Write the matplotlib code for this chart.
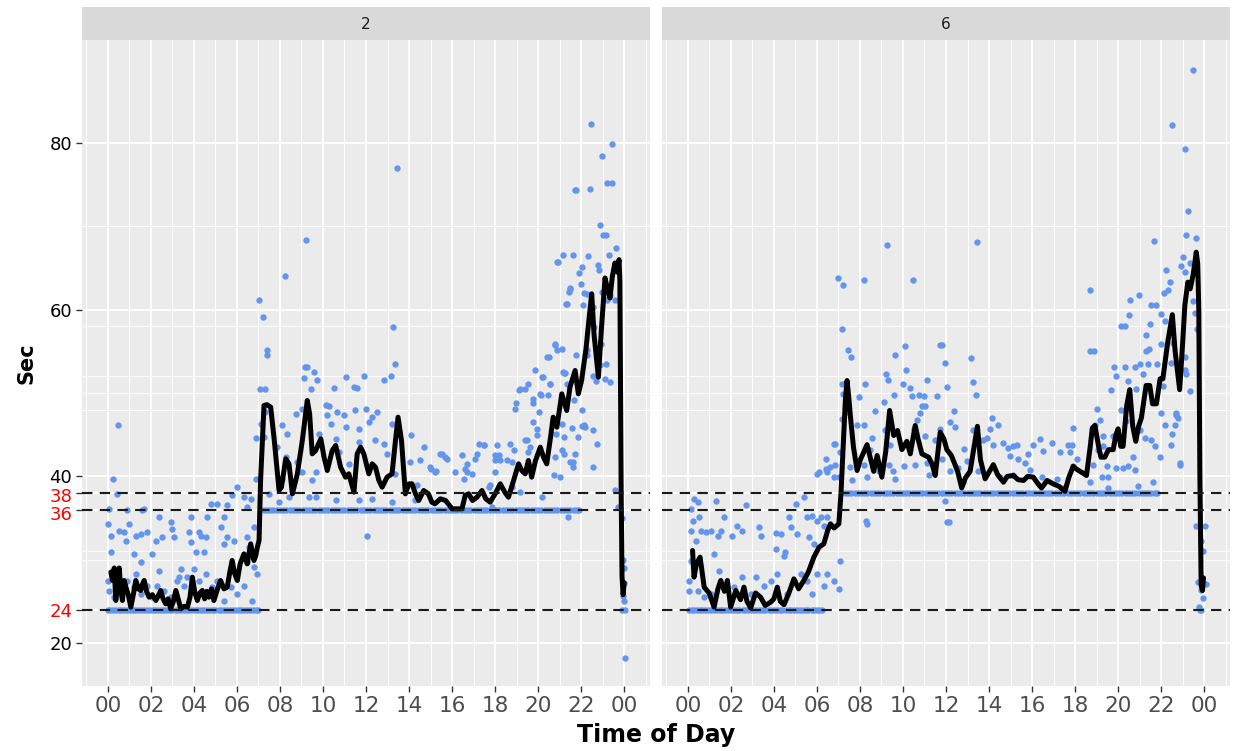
import matplotlib
matplotlib.use('Agg')
import matplotlib.pyplot as plt
import matplotlib.transforms as mtransforms

plt.rcParams['font.family'] = ['DejaVu Sans']

# ---------------- data ----------------
facets = ['2', '6']
x_breaks = [0, 2, 4, 6, 8, 10, 12, 14, 16, 18, 20, 22, 24]
x_labels = ['00', '02', '04', '06', '08', '10', '12', '14', '16', '18', '20', '22', '00']
x_minor = [-1, 1, 3, 5, 7, 9, 11, 13, 15, 17, 19, 21, 23, 25]
y_breaks = [20, 24, 36, 38, 40, 60, 80]
y_label_colors = ['black', 'red', 'red', 'red', 'black', 'black', 'black']
y_minor = [30, 31, 48, 50, 52, 58, 70]
ref_lines = [24, 36, 38]

# facet "2": rolling mean line
p2_line_h = [0.14, 0.22, 0.3, 0.37, 0.45, 0.53, 0.6, 0.68, 0.76, 0.84, 0.95, 1.07, 1.2, 1.3, 1.42,
             1.53, 1.6, 1.69, 1.8, 1.92, 2.07, 2.23, 2.35, 2.46, 2.57, 2.69, 2.8, 2.92, 3.05, 3.16,
             3.28, 3.39, 3.55, 3.7, 3.82, 3.93, 4.05, 4.16, 4.28, 4.39, 4.5, 4.6, 4.7, 4.82, 4.93,
             5.1, 5.24, 5.4, 5.55, 5.67, 5.78, 5.9, 6.02, 6.15, 6.33, 6.48, 6.64, 6.79, 6.88, 6.95,
             7.03, 7.1, 7.2, 7.26, 7.4, 7.57, 7.73, 7.96, 8.07, 8.27, 8.42, 8.58, 8.81, 9.04, 9.27,
             9.38, 9.5, 9.66, 9.9, 10.05, 10.2, 10.43, 10.59, 10.82, 11.05, 11.2, 11.44, 11.59, 11.75,
             11.9, 12.13, 12.29, 12.44, 12.6, 12.75, 12.98, 13.21, 13.37, 13.49, 13.65, 13.83, 13.99,
             14.14, 14.3, 14.45, 14.68, 14.9, 15.06, 15.2, 15.46, 15.7, 16.0, 16.46, 16.61, 16.77,
             16.95, 17.16, 17.39, 17.57, 17.77, 18.0, 18.24, 18.45, 18.62, 18.86, 19.09, 19.24, 19.4,
             19.55, 19.7, 19.88, 20.1, 20.25, 20.4, 20.6, 20.7, 20.87, 21.1, 21.33, 21.48, 21.72,
             21.87, 22.02, 22.23, 22.35, 22.49, 22.6, 22.8, 22.95, 23.11, 23.22, 23.34, 23.45, 23.57,
             23.68, 23.76, 23.8, 23.86, 23.9, 23.95, 24.0]
p2_line_v = [28.5, 27.5, 29.0, 25.1, 27.0, 29.0, 26.5, 25.1, 27.5, 26.7, 25.8, 24.3, 26.0, 27.5, 26.5,
             26.3, 27.0, 27.5, 26.2, 25.5, 25.8, 25.1, 25.7, 26.3, 25.3, 24.7, 25.3, 24.1, 25.0, 26.3,
             25.2, 24.1, 24.4, 24.3, 25.5, 27.9, 26.0, 25.1, 26.0, 26.3, 25.3, 26.2, 25.5, 26.5, 25.1,
             26.5, 27.5, 26.5, 26.7, 28.5, 29.9, 28.3, 27.5, 29.5, 30.7, 29.5, 31.9, 29.9, 30.5, 31.5,
             32.3, 39.5, 45.0, 48.5, 48.6, 48.3, 44.5, 38.3, 38.7, 42.1, 41.5, 37.9, 40.3, 44.3, 49.1,
             47.5, 42.7, 43.1, 44.5, 42.3, 40.7, 43.1, 43.7, 41.1, 39.9, 40.3, 38.1, 42.7, 43.5,
             42.7, 40.3, 41.5, 41.1, 39.5, 38.7, 39.9, 40.3, 44.3, 47.1, 44.3, 37.9, 39.1,
             39.1, 37.9, 37.1, 38.3, 37.9, 36.9, 36.7, 37.3, 37.1, 36.1, 36.1, 37.7, 37.9,
             37.1, 37.5, 38.3, 37.3, 36.9, 37.9, 39.1, 38.1, 37.5, 39.5, 41.5, 40.7, 40.3,
             41.9, 39.9, 41.9, 43.5, 42.3, 41.5, 45.1, 47.1, 45.9, 49.9, 47.9, 50.7, 52.7,
             49.9, 51.5, 55.4, 58.5, 61.9, 57.0, 51.9, 58.0, 63.8, 62.5, 61.4, 64.0, 65.6,
             64.5, 66.0, 63.5, 38.0, 28.0, 25.8, 27.2]

# facet "2": readings sitting on the 24 s and 36 s floors
p2_floor24_h = [0.0, 0.12, 0.25, 0.38, 0.5, 0.62, 0.75, 0.9, 1.02, 1.15, 1.28, 1.4, 1.55, 1.68, 1.8,
                1.95, 2.08, 2.2, 2.35, 2.48, 2.6, 2.75, 2.88, 3.0, 3.15, 3.28, 3.4, 3.55, 3.68, 3.8,
                3.95, 4.08, 4.2, 4.35, 4.48, 4.6, 4.75, 4.88, 5.0, 5.15, 5.28, 5.4, 5.55, 5.68, 5.8,
                5.95, 6.08, 6.2, 6.35, 6.48, 6.6, 6.75, 6.88, 7.0, 23.9, 24.02]
p2_floor36_h = [7.25, 7.4, 7.55, 7.7, 7.85, 8.0, 8.15, 8.3, 8.45, 8.6, 8.75, 8.9, 9.05, 9.2, 9.35,
                9.5, 9.65, 9.8, 9.95, 10.1, 10.25, 10.4, 10.55, 10.7, 10.85, 11.0, 11.15, 11.3, 11.45,
                11.6, 11.75, 11.9, 12.05, 12.2, 12.35, 12.5, 12.65, 12.8, 12.95, 13.1, 13.25, 13.4,
                13.55, 13.7, 13.85, 14.0, 14.15, 14.3, 14.45, 14.6, 14.75, 14.9, 15.05, 15.2, 15.35,
                15.5, 15.65, 15.8, 15.95, 16.1, 16.25, 16.4, 16.55, 16.7, 16.85, 17.0, 17.15, 17.3,
                17.45, 17.6, 17.75, 17.9, 18.05, 18.2, 18.35, 18.5, 18.65, 18.8, 18.95, 19.1, 19.25,
                19.4, 19.55, 19.7, 19.85, 20.0, 20.15, 20.3, 20.45, 20.6, 20.75, 20.9, 21.05, 21.2,
                21.35, 21.5, 21.65, 21.8, 21.9]

# facet "2": other individual readings (hour, seconds)
p2_points = [
    (0.48, 46.1), (0.22, 39.7), (0.42, 37.9), (0.06, 36.1), (0.0, 34.3), (0.17, 32.9), (0.14, 30.9),
    (0.0, 27.5), (0.06, 26.3), (0.29, 28.9), (0.53, 33.5), (0.76, 33.3), (0.99, 34.3), (0.91, 35.9),
    (0.84, 32.3), (1.3, 32.9), (1.53, 33.1), (1.84, 33.3), (1.69, 36.1), (1.61, 35.9), (1.22, 30.7),
    (1.53, 29.7), (1.3, 28.3), (2.07, 30.7), (2.23, 32.3), (2.38, 35.1), (2.54, 32.7), (2.38, 28.7),
    (2.92, 34.5), (3.08, 32.7), (3.0, 33.7), (3.31, 27.9), (3.39, 28.9), (3.85, 35.1), (3.76, 33.3),
    (3.85, 32.1), (4.08, 30.9), (4.24, 33.3), (4.31, 32.9), (4.47, 30.9), (4.62, 35.1), (4.55, 32.7),
    (4.78, 36.7), (5.09, 36.7), (5.24, 33.9), (5.4, 35.1), (5.55, 36.5), (5.79, 37.7), (6.02, 38.7),
    (6.33, 37.5), (6.48, 36.3), (6.64, 37.3), (6.87, 39.7), (6.79, 33.9), (5.4, 31.9), (5.55, 32.7),
    (5.86, 32.3), (6.48, 32.7), (6.56, 31.5), (6.48, 29.7), (6.79, 29.1), (6.95, 28.3), (6.71, 25.1),
    (6.33, 26.9), (6.02, 25.9), (5.71, 26.7), (5.4, 25.1), (5.09, 27.5), (4.86, 26.7), (4.55, 28.3),
    (4.24, 27.5), (4.0, 28.9), (3.7, 27.9), (3.54, 26.9), (3.23, 27.5), (2.92, 25.5), (2.61, 26.3),
    (2.3, 26.9), (2.07, 25.5), (1.84, 26.9), (1.53, 25.9), (1.22, 26.7), (0.91, 27.5), (0.6, 25.9),
    (0.29, 25.5),
    (7.03, 61.1), (7.22, 59.1), (7.39, 55.1), (7.38, 54.5), (7.06, 50.5), (7.3, 50.5), (7.31, 47.7),
    (7.11, 46.3), (6.88, 44.6), (7.26, 44.7), (8.24, 64.1), (9.2, 68.4), (9.17, 53.1), (9.27, 53.1),
    (9.12, 51.8), (9.58, 52.5), (9.74, 51.6), (9.43, 50.5), (8.73, 47.5), (9.04, 48.1), (8.11, 46.1),
    (8.35, 45.1), (7.88, 43.5), (8.27, 42.3), (8.11, 39.7), (8.81, 41.7), (9.04, 40.5), (9.51, 39.5),
    (9.66, 40.5), (9.81, 45.1), (10.12, 48.5), (10.28, 48.4), (10.51, 50.6), (10.2, 47.3),
    (10.36, 46.3), (10.66, 47.7), (10.97, 47.3), (11.05, 51.9), (11.44, 50.7), (11.59, 50.6),
    (11.9, 52.0), (11.51, 47.9), (11.98, 48.1), (12.52, 47.7), (12.13, 46.5), (12.29, 47.1),
    (11.67, 45.7), (11.05, 45.9), (10.59, 44.5), (10.74, 42.9), (11.2, 41.5), (11.67, 44.1),
    (12.44, 44.3), (12.83, 51.6), (13.14, 52.0), (13.26, 57.9), (13.37, 53.5), (13.42, 77.0),
    (12.83, 43.9), (12.98, 42.7), (13.37, 40.3), (13.21, 46.3), (14.11, 45.0), (14.06, 41.7),
    (14.53, 41.9), (14.68, 43.5), (14.99, 41.1), (15.22, 40.5), (15.46, 42.7), (15.69, 42.3),
    (16.46, 42.5), (16.54, 39.7), (16.69, 41.5), (16.92, 40.3), (17.16, 42.7), (17.23, 43.9),
    (17.47, 43.8), (17.08, 42.1), (18.08, 43.7), (18.01, 42.5), (18.24, 41.9), (18.01, 40.5),
    (17.77, 38.9), (18.7, 43.9), (18.86, 43.1), (18.55, 41.9), (18.93, 48.1), (19.09, 50.3),
    (19.17, 50.5), (19.4, 44.3), (19.55, 42.9), (19.78, 48.8), (19.86, 52.7), (19.78, 46.5),
    (19.94, 44.9), (20.02, 47.7), (20.17, 51.9), (20.4, 54.3), (20.56, 51.1), (20.1, 49.9),
    (20.48, 49.7), (20.8, 55.8), (20.87, 55.1), (21.1, 55.3), (20.87, 65.7), (21.17, 66.5),
    (21.33, 60.7), (21.48, 62.5), (21.72, 74.3), (21.25, 52.4), (21.17, 52.5), (21.64, 41.1),
    (21.48, 41.7), (21.56, 45.8), (21.1, 43.2), (21.02, 39.9), (20.17, 37.5), (19.17, 38.1),
    (18.78, 38.7), (17.7, 38.7), (16.69, 40.5), (15.77, 42.1), (16.15, 40.5), (14.37, 38.9),
    (14.3, 37.1), (13.21, 36.9), (12.29, 37.3), (12.06, 32.8), (11.67, 37.1), (10.59, 37.1),
    (9.66, 37.5), (9.35, 37.5), (8.42, 37.5), (7.96, 36.9), (7.5, 37.9), (21.4, 35.1), (17.85, 36.3),
    (15.0, 40.9), (15.27, 40.6), (15.53, 42.7), (16.61, 40.9), (17.5, 43.8), (18.16, 42.5),
    (18.0, 42.0), (18.78, 41.7), (19.48, 44.3), (19.63, 43.5), (19.4, 50.5), (19.55, 51.1),
    (18.98, 48.8), (19.78, 49.3), (19.94, 45.7), (20.22, 51.9), (20.12, 49.8), (20.53, 51.1),
    (20.51, 54.3), (20.79, 55.9), (21.18, 52.4), (21.75, 54.5), (21.36, 51.1), (21.69, 49.1),
    (22.03, 47.9), (21.1, 46.3), (21.18, 44.7), (21.21, 42.7), (20.84, 45.1), (20.79, 42.3),
    (20.74, 40.1), (21.64, 41.7), (21.72, 42.7), (21.87, 44.7), (22.03, 46.0), (22.14, 46.1),
    (22.26, 55.1), (22.29, 54.5), (22.57, 52.0), (22.68, 51.4), (22.88, 53.4),
    (22.46, 82.3), (23.43, 79.9), (22.96, 78.4), (21.75, 74.4), (22.41, 74.5), (23.22, 75.2),
    (23.42, 75.2), (22.88, 70.2), (23.03, 68.9), (23.14, 69.0), (23.62, 67.4), (23.3, 66.6),
    (21.64, 66.5), (22.31, 66.4), (20.94, 65.7), (22.06, 65.1), (22.77, 65.4), (21.9, 64.4),
    (22.85, 64.7), (21.98, 63.1), (21.49, 62.6), (21.44, 62.1), (22.15, 62.0), (22.26, 61.9),
    (21.3, 60.7), (22.1, 60.6), (23.19, 61.1), (23.34, 61.7), (23.57, 61.1), (22.96, 62.1),
    (22.57, 60.3), (22.6, 57.9), (22.92, 55.9), (23.16, 53.5), (23.11, 51.7), (23.34, 51.3),
    (22.72, 43.9), (22.54, 45.5), (22.54, 41.1), (22.18, 45.9),
    (23.57, 38.4), (23.7, 36.3), (23.89, 35.0), (23.95, 30.0), (23.97, 29.0), (24.0, 27.2),
    (23.95, 25.7), (24.0, 25.1), (24.02, 18.2),
]

# facet "6": rolling mean line
p6_line_h = [0.22, 0.29, 0.4, 0.57, 0.76, 0.99, 1.1, 1.22, 1.4, 1.53, 1.7, 1.84, 1.99, 2.23, 2.45,
             2.61, 2.75, 2.92, 3.15, 3.38, 3.6, 3.85, 4.0, 4.16, 4.3, 4.47, 4.7, 4.93, 5.15, 5.39,
             5.6, 5.86, 6.1, 6.32, 6.5, 6.63, 6.8, 7.02, 7.12, 7.22, 7.32, 7.4, 7.48, 7.56, 7.7,
             7.87, 8.02, 8.33, 8.64, 8.8, 9.02, 9.2, 9.38, 9.57, 9.75, 9.95, 10.18, 10.34, 10.57,
             10.7, 10.88, 11.19, 11.35, 11.5, 11.73, 11.9, 12.04, 12.25, 12.42, 12.55, 12.73, 12.9,
             13.12, 13.3, 13.46, 13.6, 13.82, 14.0, 14.2, 14.4, 14.67, 14.85, 15.13, 15.35, 15.6,
             15.8, 16.06, 16.25, 16.44, 16.7, 16.98, 17.25, 17.53, 17.7, 17.91, 18.1, 18.3, 18.53,
             18.7, 18.8, 18.92, 19.1, 19.2, 19.38, 19.55, 19.77, 19.9, 20.0, 20.12, 20.23, 20.4,
             20.54, 20.68, 20.82, 20.95, 21.08, 21.3, 21.47, 21.6, 21.78, 21.95, 22.08, 22.3, 22.52,
             22.65, 22.86, 23.0, 23.1, 23.24, 23.35, 23.48, 23.56, 23.63, 23.7, 23.75, 23.8, 23.86,
             23.92, 23.97]
p6_line_v = [31.1, 27.9, 29.5, 30.3, 26.7, 26.0, 25.2, 24.3, 26.5, 27.5, 26.2, 27.5, 24.3, 26.3, 25.2,
             26.7, 25.0, 24.2, 26.0, 25.5, 24.5, 24.9, 25.3, 26.7, 25.0, 24.6, 26.0, 27.7, 26.5, 27.5,
             28.5, 30.3, 31.5, 31.9, 33.5, 34.3, 33.8, 34.3, 38.0, 43.5, 49.0, 51.5, 49.5, 47.1, 43.5,
             40.7, 42.0, 43.8, 40.6, 42.5, 39.9, 43.0, 47.9, 44.9, 45.5, 43.2, 44.2, 42.7, 46.1,
             44.5, 42.7, 42.3, 41.5, 40.1, 45.3, 44.5, 43.2, 42.5, 41.4, 40.5, 38.6, 39.8,
             40.6, 43.5, 46.0, 42.0, 39.7, 40.5, 41.4, 40.2, 39.3, 40.0, 40.1, 39.6, 39.5,
             40.0, 39.9, 39.2, 38.6, 39.5, 39.1, 38.8, 38.2, 39.8, 41.2, 40.8, 40.5, 40.1,
             43.5, 45.8, 46.1, 43.5, 42.3, 42.3, 43.2, 43.2, 45.0, 45.7, 43.6, 43.6, 48.5,
             50.4, 46.0, 44.2, 46.0, 47.0, 50.9, 50.9, 48.7, 48.7, 51.7, 51.7, 56.0, 59.4,
             55.0, 50.4, 56.0, 60.5, 63.3, 62.5, 64.1, 65.5, 66.9, 65.5, 60.0, 40.0, 26.9,
             26.3, 27.8]

# facet "6": readings sitting on the 24 s and 38 s floors
p6_floor24_h = [0.05, 0.18, 0.3, 0.42, 0.55, 0.68, 0.8, 0.95, 1.08, 1.2, 1.35, 1.48, 1.6, 1.75, 1.88,
                2.0, 2.15, 2.28, 2.4, 2.55, 2.68, 2.8, 2.95, 3.08, 3.2, 3.35, 3.48, 3.6, 3.75, 3.88,
                4.0, 4.15, 4.28, 4.4, 4.55, 4.68, 4.8, 4.95, 5.08, 5.2, 5.35, 5.48, 5.6, 5.75, 5.88,
                6.0, 6.12, 6.25, 23.8, 23.86]
p6_floor38_h = [7.3, 7.45, 7.6, 7.75, 7.9, 8.05, 8.2, 8.35, 8.5, 8.65, 8.8, 8.95, 9.1, 9.25, 9.4,
                9.55, 9.7, 9.85, 10.0, 10.15, 10.3, 10.45, 10.6, 10.75, 10.9, 11.05, 11.2, 11.35,
                11.5, 11.65, 11.8, 11.95, 12.1, 12.25, 12.4, 12.55, 12.7, 12.85, 13.0, 13.15, 13.3,
                13.45, 13.6, 13.75, 13.9, 14.05, 14.2, 14.35, 14.5, 14.65, 14.8, 14.95, 15.1, 15.25,
                15.4, 15.55, 15.7, 15.85, 16.0, 16.15, 16.3, 16.45, 16.6, 16.75, 16.9, 17.05, 17.2,
                17.35, 17.5, 17.65, 17.8, 17.95, 18.1, 18.25, 18.4, 18.55, 18.7, 18.85, 19.0, 19.15,
                19.3, 19.45, 19.6, 19.75, 19.9, 20.05, 20.2, 20.35, 20.5, 20.65, 20.8, 20.95, 21.1,
                21.25, 21.4, 21.55, 21.7, 21.8]

# facet "6": other individual readings (hour, seconds)
p6_points = [
    (0.29, 37.3), (0.48, 36.9), (0.14, 36.1), (0.22, 34.7), (0.53, 35.1), (0.14, 33.5), (0.37, 32.3),
    (0.6, 33.5), (0.83, 33.3), (1.07, 33.5), (1.38, 32.9), (1.3, 37.0), (1.68, 35.1), (1.53, 33.5),
    (2.07, 32.9), (2.3, 34.1), (2.53, 33.5), (2.69, 36.6), (3.31, 33.9), (3.39, 32.9), (4.08, 33.2),
    (4.54, 30.9), (4.31, 33.1), (4.7, 35.1), (4.78, 33.9), (5.01, 36.7), (5.39, 37.5), (5.08, 33.1),
    (5.55, 35.1), (5.78, 35.3), (6.01, 34.7), (6.17, 35.1), (6.48, 35.1), (6.32, 34.1), (5.63, 32.7),
    (5.86, 31.9), (6.86, 43.9), (6.4, 40.9), (6.63, 41.1), (6.09, 40.5), (6.01, 40.3), (6.4, 42.1),
    (6.79, 39.9), (7.02, 39.9), (7.09, 29.9), (7.02, 26.5), (6.79, 27.5), (6.48, 28.3), (6.32, 26.9),
    (6.01, 28.3), (5.78, 25.9), (5.55, 27.5), (5.24, 28.3), (4.93, 27.5), (4.62, 25.9), (4.16, 28.3),
    (3.85, 27.5), (3.54, 26.9), (3.15, 27.9), (2.92, 25.9), (2.53, 27.9), (2.15, 26.7), (1.76, 26.9),
    (1.45, 28.7), (1.22, 30.7), (1.07, 25.9), (0.76, 25.5), (0.45, 26.3), (0.06, 27.5), (0.06, 26.3),
    (0.14, 29.9), (4.08, 31.3), (4.47, 30.5),
    (7.17, 51.1), (7.22, 49.9), (7.33, 47.7), (7.17, 46.9), (6.79, 43.9), (6.48, 40.5), (6.86, 41.3),
    (7.09, 42.9), (7.56, 41.1), (7.64, 39.5), (7.87, 41.6), (7.87, 46.1), (8.18, 46.1), (7.94, 49.5),
    (8.33, 34.3), (12.04, 34.5), (7.0, 63.8), (7.2, 62.9), (7.15, 57.7), (7.46, 55.1), (7.6, 54.3),
    (23.48, 88.7), (22.52, 82.2), (23.09, 79.3), (23.24, 71.8), (23.17, 68.9), (23.63, 68.6),
    (21.67, 68.3), (9.26, 67.7), (13.46, 68.1), (8.17, 63.5), (10.45, 63.5), (23.01, 66.3),
    (22.94, 65.2), (23.32, 65.6), (23.09, 64.5), (22.24, 64.8), (22.43, 63.3), (22.32, 62.4),
    (22.12, 62.0), (23.48, 61.0), (23.55, 59.6), (23.66, 57.7), (21.51, 60.6), (21.78, 60.6),
    (20.97, 61.8), (20.54, 61.1), (20.51, 59.3), (18.68, 62.4), (21.5, 58.3), (20.15, 58.0),
    (20.34, 58.0), (22.01, 59.5), (22.16, 58.6), (21.31, 57.0), (21.44, 55.3), (21.28, 55.0),
    (22.01, 55.9), (22.55, 56.0), (23.09, 54.3), (23.17, 52.3), (22.47, 53.6), (21.82, 53.5),
    (21.0, 53.5), (21.39, 53.5), (20.34, 53.1), (20.77, 53.1), (19.81, 53.1), (19.89, 52.0),
    (20.46, 51.4), (20.85, 50.5), (21.16, 52.3), (19.69, 50.3), (18.68, 55.0), (18.89, 55.0),
    (19.0, 48.1), (19.15, 46.8), (18.92, 46.1), (19.3, 44.8), (19.77, 44.8), (20.15, 47.9),
    (20.38, 46.6), (21.0, 45.5), (21.23, 44.6), (21.55, 44.4), (21.7, 43.6), (21.93, 42.3),
    (22.16, 46.1), (22.52, 45.1), (22.47, 43.8), (22.7, 47.6), (22.78, 47.0), (22.63, 46.1),
    (22.86, 41.6), (22.01, 47.6), (22.08, 50.8), (19.92, 41.0), (20.23, 41.0), (20.46, 41.2),
    (20.69, 42.3), (20.77, 40.7), (19.46, 41.2), (19.53, 39.9), (19.23, 39.9), (18.84, 41.4),
    (19.07, 43.1), (19.3, 43.6), (18.07, 42.1), (17.76, 42.9), (17.68, 43.8), (17.88, 45.8),
    (17.84, 43.8), (17.29, 42.9), (16.91, 44.0), (16.52, 43.0), (16.37, 44.5), (16.03, 43.8),
    (15.82, 42.7), (15.67, 41.6), (15.28, 43.8), (15.13, 43.6), (14.9, 43.4), (14.67, 44.0),
    (14.98, 42.4), (15.36, 42.1), (14.13, 47.0), (14.43, 46.1), (14.05, 45.7), (14.2, 43.8),
    (13.89, 44.6), (13.74, 44.3), (13.24, 45.5), (13.15, 54.2), (13.27, 51.3), (13.4, 49.8),
    (12.84, 43.3), (12.97, 41.8), (12.42, 45.9), (12.19, 46.5), (12.35, 47.8), (12.04, 50.7),
    (11.81, 55.7), (11.7, 55.7), (11.96, 53.6), (11.58, 49.6), (11.73, 45.7), (11.5, 44.4),
    (11.81, 42.1), (11.11, 51.5), (10.96, 49.6), (10.73, 49.8), (10.88, 48.4), (11.03, 48.4),
    (10.8, 47.6), (10.65, 46.8), (11.03, 44.8), (10.57, 41.4), (10.49, 45.7), (10.34, 50.6),
    (10.42, 49.6), (10.14, 52.8), (10.0, 51.1), (10.08, 55.6), (9.64, 54.6), (9.57, 49.8),
    (9.53, 40.6), (9.41, 43.8), (9.33, 41.4), (9.23, 52.3), (9.29, 51.6), (9.1, 48.9), (9.18, 45.5),
    (8.72, 47.8), (8.56, 44.6), (8.25, 51.1), (8.17, 41.4), (8.48, 43.1), (8.33, 39.9), (8.87, 40.6),
    (9.64, 39.7), (10.03, 41.2), (11.11, 41.6), (11.19, 40.1), (12.19, 40.6), (12.58, 41.0),
    (12.81, 39.3), (13.51, 40.6), (14.51, 39.9), (15.13, 40.1), (15.9, 40.8), (16.44, 39.9),
    (17.14, 39.7), (17.45, 38.6), (17.91, 41.2), (18.68, 39.3), (19.53, 38.6), (20.93, 38.8),
    (21.62, 39.3), (22.86, 41.4), (22.7, 47.4), (23.09, 52.8), (23.32, 50.2), (23.63, 34.1),
    (24.02, 34.1), (23.86, 32.2), (23.94, 31.1), (24.09, 27.1), (23.71, 27.3), (23.86, 26.4),
    (23.94, 25.4), (23.78, 24.3), (12.12, 34.5), (8.3, 34.6), (11.96, 37.0),
]

# ---------------- drawing ----------------
W, H = 1235, 751
fig = plt.figure(figsize=(W / 100, H / 100), dpi=100)
fig.patch.set_facecolor('white')

panel_px = [(82, 650), (662, 1230)]
top_px, bottom_px, strip_px = 40, 686, 7

panel_data = [
    (p2_line_h, p2_line_v, p2_points, [(p2_floor24_h, 24), (p2_floor36_h, 36)]),
    (p6_line_h, p6_line_v, p6_points, [(p6_floor24_h, 24), (p6_floor38_h, 38)]),
]

# small vertical nudges (in pixels) for the crowded 40/38/36 labels
label_nudge_px = {38: -1.5, 36: -3.5}

PT_COLOR = '#6495ED'
for i, (x0, x1) in enumerate(panel_px):
    ax = fig.add_axes([x0 / W, 1 - bottom_px / H, (x1 - x0) / W, (bottom_px - top_px) / H])
    ax.set_facecolor('#EBEBEB')
    ax.set_xlim(-1.2, 25.2)
    ax.set_ylim(14.84, 92.36)
    for s in ax.spines.values():
        s.set_visible(False)

    ax.set_xticks(x_breaks)
    ax.set_xticks(x_minor, minor=True)
    ax.set_yticks(y_breaks)
    ax.set_yticks(y_minor, minor=True)
    ax.grid(which='major', color='white', lw=1.3, zorder=0)
    ax.grid(which='minor', color='white', lw=0.65, zorder=0)
    ax.set_axisbelow(True)
    ax.tick_params(which='minor', length=0)
    ax.tick_params(axis='x', which='major', length=4, width=1.0, color='#333333',
                   labelsize=15.5, labelcolor='#4D4D4D', pad=3)
    ax.set_xticklabels(x_labels)
    if i == 0:
        ax.tick_params(axis='y', which='major', length=4, width=1.0, color='#333333',
                       labelsize=13, pad=3)
        ax.set_yticklabels([str(b) for b in y_breaks])
        for b, lab, col in zip(y_breaks, ax.get_yticklabels(), y_label_colors):
            lab.set_color(col)
            if b in label_nudge_px:
                lab.set_transform(lab.get_transform() +
                                  mtransforms.ScaledTranslation(0, label_nudge_px[b] / 100,
                                                                fig.dpi_scale_trans))
    else:
        ax.tick_params(axis='y', which='major', length=0, labelleft=False)

    lh, lv, pts, floors = panel_data[i]
    for fh, fv in floors:
        ax.scatter(fh, [fv] * len(fh), s=21, c=PT_COLOR, linewidths=0, zorder=2)
    ax.scatter([p[0] for p in pts], [p[1] for p in pts], s=21, c=PT_COLOR,
               linewidths=0, zorder=2)
    ax.plot(lh, lv, color='black', lw=3.6, zorder=3, solid_joinstyle='round',
            solid_capstyle='round')
    for r in ref_lines:
        ax.axhline(r, color='#1a1a1a', lw=1.5, ls=(0, (5, 3.5)), zorder=4)

    # facet strip
    sax = fig.add_axes([x0 / W, 1 - top_px / H, (x1 - x0) / W, (top_px - strip_px) / H])
    sax.set_facecolor('#D9D9D9')
    sax.set_xticks([])
    sax.set_yticks([])
    for s in sax.spines.values():
        s.set_visible(False)
    sax.text(0.5, 0.48, facets[i], ha='center', va='center', fontsize=11,
             color='#1A1A1A', transform=sax.transAxes)

fig.text(656 / W, 1 - 735 / H, 'Time of Day', ha='center', va='center',
         fontsize=17, fontweight='bold')
fig.text(26 / W, 1 - 363 / H, 'Sec', ha='center', va='center', rotation=90,
         fontsize=15, fontweight='bold')

fig.savefig('out.png', dpi=100)
